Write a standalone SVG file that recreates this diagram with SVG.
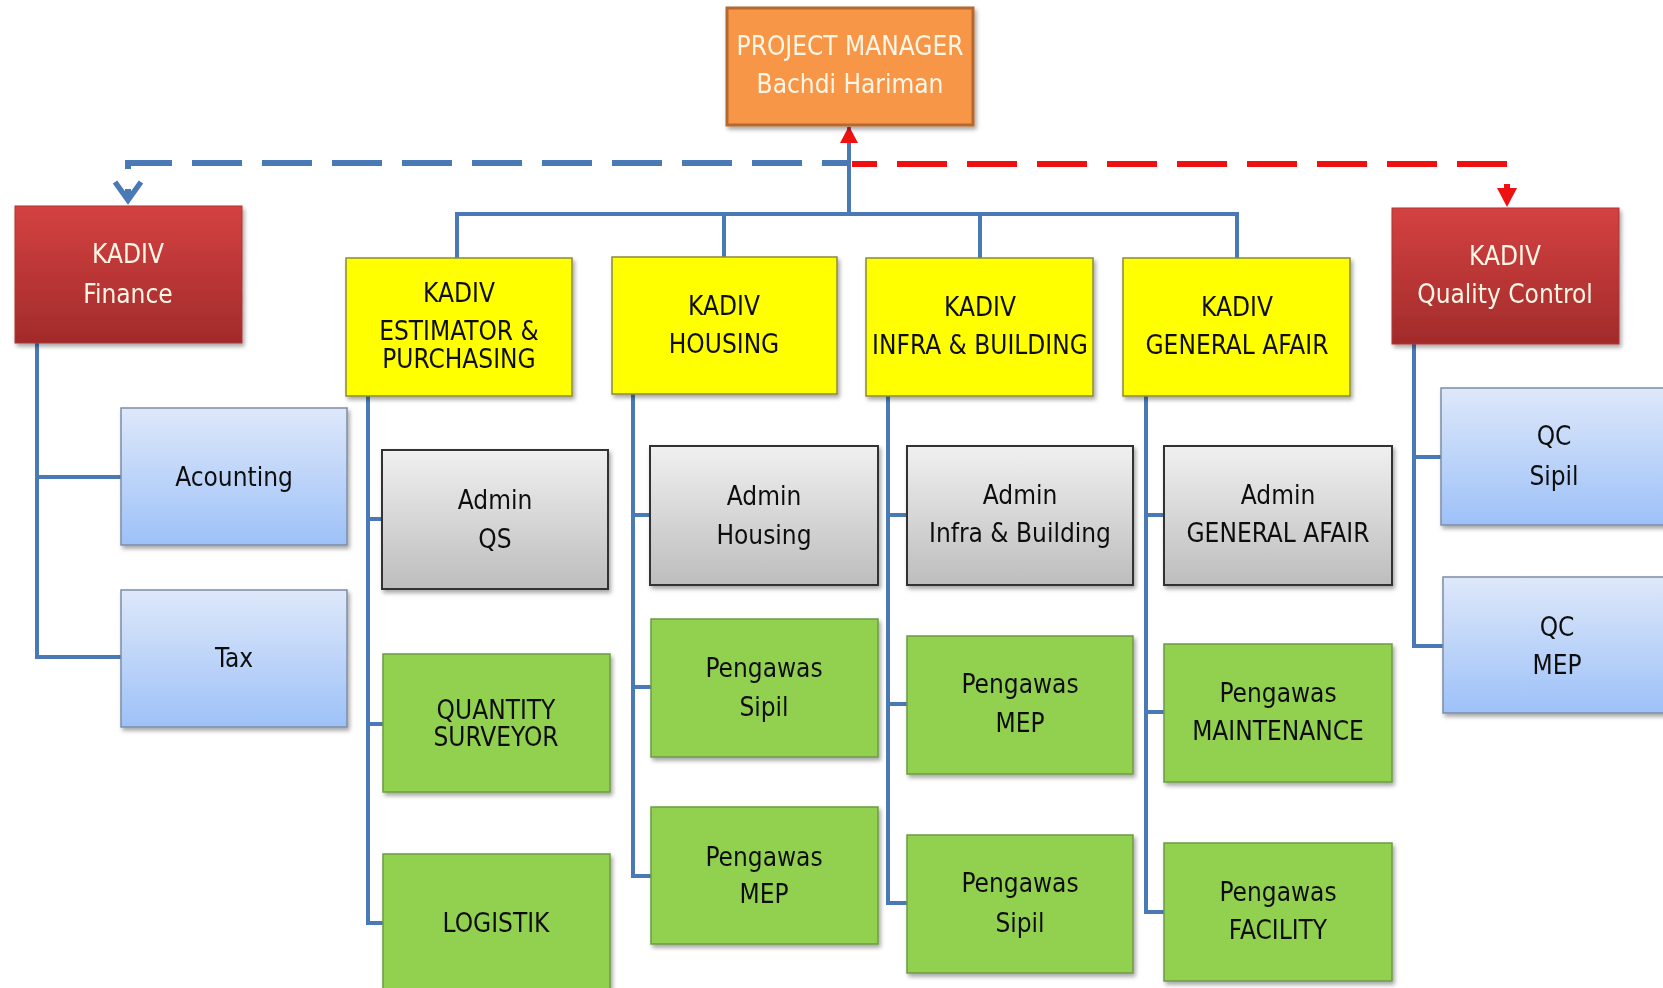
<svg xmlns="http://www.w3.org/2000/svg" width="1663" height="988" viewBox="0 0 1663 988">
<defs>
<style>
.t{font-family:"DejaVu Sans Condensed","DejaVu Sans",sans-serif;font-stretch:condensed;font-size:26px;text-anchor:middle;fill:#111}
.w{fill:#FFF6E6}
.conn{fill:none;stroke:#4A7AB5;stroke-width:4;stroke-linejoin:miter}
.pm{fill:#F79646;stroke:#B5692E;stroke-width:3}
.red{fill:url(#gRed);stroke:#B03535;stroke-width:1}
.yel{fill:#FFFF00;stroke:#8A8A3A;stroke-width:1.5}
.gry{fill:url(#gGray);stroke:#333;stroke-width:2}
.grn{fill:#92D050;stroke:#6E9A45;stroke-width:1.5}
.blu{fill:url(#gBlue);stroke:#7D8DA6;stroke-width:1.5}
</style>
<linearGradient id="gRed" x1="0" y1="0" x2="0" y2="1"><stop offset="0" stop-color="#D44141"/><stop offset="1" stop-color="#A22B2B"/></linearGradient>
<linearGradient id="gGray" x1="0" y1="0" x2="0" y2="1"><stop offset="0" stop-color="#F0F0F0"/><stop offset="1" stop-color="#BDBDBD"/></linearGradient>
<linearGradient id="gBlue" x1="0" y1="0" x2="0" y2="1"><stop offset="0" stop-color="#DEE8FA"/><stop offset="1" stop-color="#9DC1F8"/></linearGradient>
<filter id="sh" x="-10%" y="-10%" width="125%" height="130%"><feDropShadow dx="2" dy="3" stdDeviation="2" flood-color="#000" flood-opacity="0.35"/></filter>
</defs>

<g id="connectors">
<path class="conn" d="M849 214 V127"/>
<path class="conn" d="M457 258 V214 H1237 V258"/>
<path class="conn" d="M724 214 V258"/>
<path class="conn" d="M980 214 V258"/>
<path class="conn" d="M37 343 V657 H121 M37 477 H121"/>
<path class="conn" d="M368 396 V923 H383 M368 519 H382 M368 724 H383"/>
<path class="conn" d="M633 394 V876 H651 M633 515 H650 M633 687 H651"/>
<path class="conn" d="M888 396 V903 H907 M888 515 H907 M888 704 H907"/>
<path class="conn" d="M1146 396 V912 H1164 M1146 515 H1164 M1146 712 H1164"/>
<path class="conn" d="M1414 344 V646 H1443 M1414 457 H1441"/>
<path d="M847 163 H128 V196" fill="none" stroke="#4A7AB5" stroke-width="6" stroke-dasharray="50 20" stroke-dashoffset="25"/>
<polyline points="115,182 128,200 141,182" fill="none" stroke="#4A7AB5" stroke-width="5.5"/>
<path d="M852 164 H1507 V188" fill="none" stroke="#EE1111" stroke-width="6" stroke-dasharray="50 20" stroke-dashoffset="25" stroke-linejoin="round"/>
<polygon points="1497,188 1517,188 1507,207" fill="#EE1111"/>
<polygon points="849,126 840,143 858,143" fill="#EE1111"/>
</g>

<g id="pm" filter="url(#sh)"><rect class="pm" x="727" y="8" width="246" height="117"/>
<text class="t w" x="850" y="55">PROJECT MANAGER</text><text class="t w" x="850" y="93">Bachdi Hariman</text></g>

<g id="finance" filter="url(#sh)"><rect class="red" x="15" y="206" width="227" height="137"/>
<text class="t w" x="128" y="263">KADIV</text><text class="t w" x="128" y="303">Finance</text></g>

<g id="qc" filter="url(#sh)"><rect class="red" x="1392" y="208" width="227" height="136"/>
<text class="t w" x="1505" y="265">KADIV</text><text class="t w" x="1505" y="303">Quality Control</text></g>

<g id="estimator" filter="url(#sh)"><rect class="yel" x="346" y="258" width="226" height="138"/>
<text class="t" x="459" y="302">KADIV</text><text class="t" x="459" y="340">ESTIMATOR &amp;</text><text class="t" x="459" y="368">PURCHASING</text></g>

<g id="housing" filter="url(#sh)"><rect class="yel" x="612" y="257" width="225" height="137"/>
<text class="t" x="724" y="315">KADIV</text><text class="t" x="724" y="353">HOUSING</text></g>

<g id="infra" filter="url(#sh)"><rect class="yel" x="866" y="258" width="227" height="138"/>
<text class="t" x="980" y="316">KADIV</text><text class="t" x="980" y="354">INFRA &amp; BUILDING</text></g>

<g id="general" filter="url(#sh)"><rect class="yel" x="1123" y="258" width="227" height="138"/>
<text class="t" x="1237" y="316">KADIV</text><text class="t" x="1237" y="354">GENERAL AFAIR</text></g>

<g id="acounting" filter="url(#sh)"><rect class="blu" x="121" y="408" width="226" height="137"/>
<text class="t" x="234" y="486">Acounting</text></g>

<g id="tax" filter="url(#sh)"><rect class="blu" x="121" y="590" width="226" height="137"/>
<text class="t" x="234" y="667">Tax</text></g>

<g id="admin-qs" filter="url(#sh)"><rect class="gry" x="382" y="450" width="226" height="139"/>
<text class="t" x="495" y="509">Admin</text><text class="t" x="495" y="548">QS</text></g>

<g id="qs" filter="url(#sh)"><rect class="grn" x="383" y="654" width="227" height="138"/>
<text class="t" x="496" y="719">QUANTITY</text><text class="t" x="496" y="746">SURVEYOR</text></g>

<g id="logistik" filter="url(#sh)"><rect class="grn" x="383" y="854" width="227" height="150"/>
<text class="t" x="496" y="932">LOGISTIK</text></g>

<g id="admin-housing" filter="url(#sh)"><rect class="gry" x="650" y="446" width="228" height="139"/>
<text class="t" x="764" y="505">Admin</text><text class="t" x="764" y="544">Housing</text></g>

<g id="housing-sipil" filter="url(#sh)"><rect class="grn" x="651" y="619" width="227" height="138"/>
<text class="t" x="764" y="677">Pengawas</text><text class="t" x="764" y="716">Sipil</text></g>

<g id="housing-mep" filter="url(#sh)"><rect class="grn" x="651" y="807" width="227" height="137"/>
<text class="t" x="764" y="866">Pengawas</text><text class="t" x="764" y="903">MEP</text></g>

<g id="admin-infra" filter="url(#sh)"><rect class="gry" x="907" y="446" width="226" height="139"/>
<text class="t" x="1020" y="504">Admin</text><text class="t" x="1020" y="542">Infra &amp; Building</text></g>

<g id="infra-mep" filter="url(#sh)"><rect class="grn" x="907" y="636" width="226" height="138"/>
<text class="t" x="1020" y="693">Pengawas</text><text class="t" x="1020" y="732">MEP</text></g>

<g id="infra-sipil" filter="url(#sh)"><rect class="grn" x="907" y="835" width="226" height="138"/>
<text class="t" x="1020" y="892">Pengawas</text><text class="t" x="1020" y="932">Sipil</text></g>

<g id="admin-ga" filter="url(#sh)"><rect class="gry" x="1164" y="446" width="228" height="139"/>
<text class="t" x="1278" y="504">Admin</text><text class="t" x="1278" y="542">GENERAL AFAIR</text></g>

<g id="maintenance" filter="url(#sh)"><rect class="grn" x="1164" y="644" width="228" height="138"/>
<text class="t" x="1278" y="702">Pengawas</text><text class="t" x="1278" y="740">MAINTENANCE</text></g>

<g id="facility" filter="url(#sh)"><rect class="grn" x="1164" y="843" width="228" height="138"/>
<text class="t" x="1278" y="901">Pengawas</text><text class="t" x="1278" y="939">FACILITY</text></g>

<g id="qc-sipil" filter="url(#sh)"><rect class="blu" x="1441" y="388" width="227" height="137"/>
<text class="t" x="1554" y="445">QC</text><text class="t" x="1554" y="485">Sipil</text></g>

<g id="qc-mep" filter="url(#sh)"><rect class="blu" x="1443" y="577" width="227" height="136"/>
<text class="t" x="1557" y="636">QC</text><text class="t" x="1557" y="674">MEP</text></g>
</svg>
